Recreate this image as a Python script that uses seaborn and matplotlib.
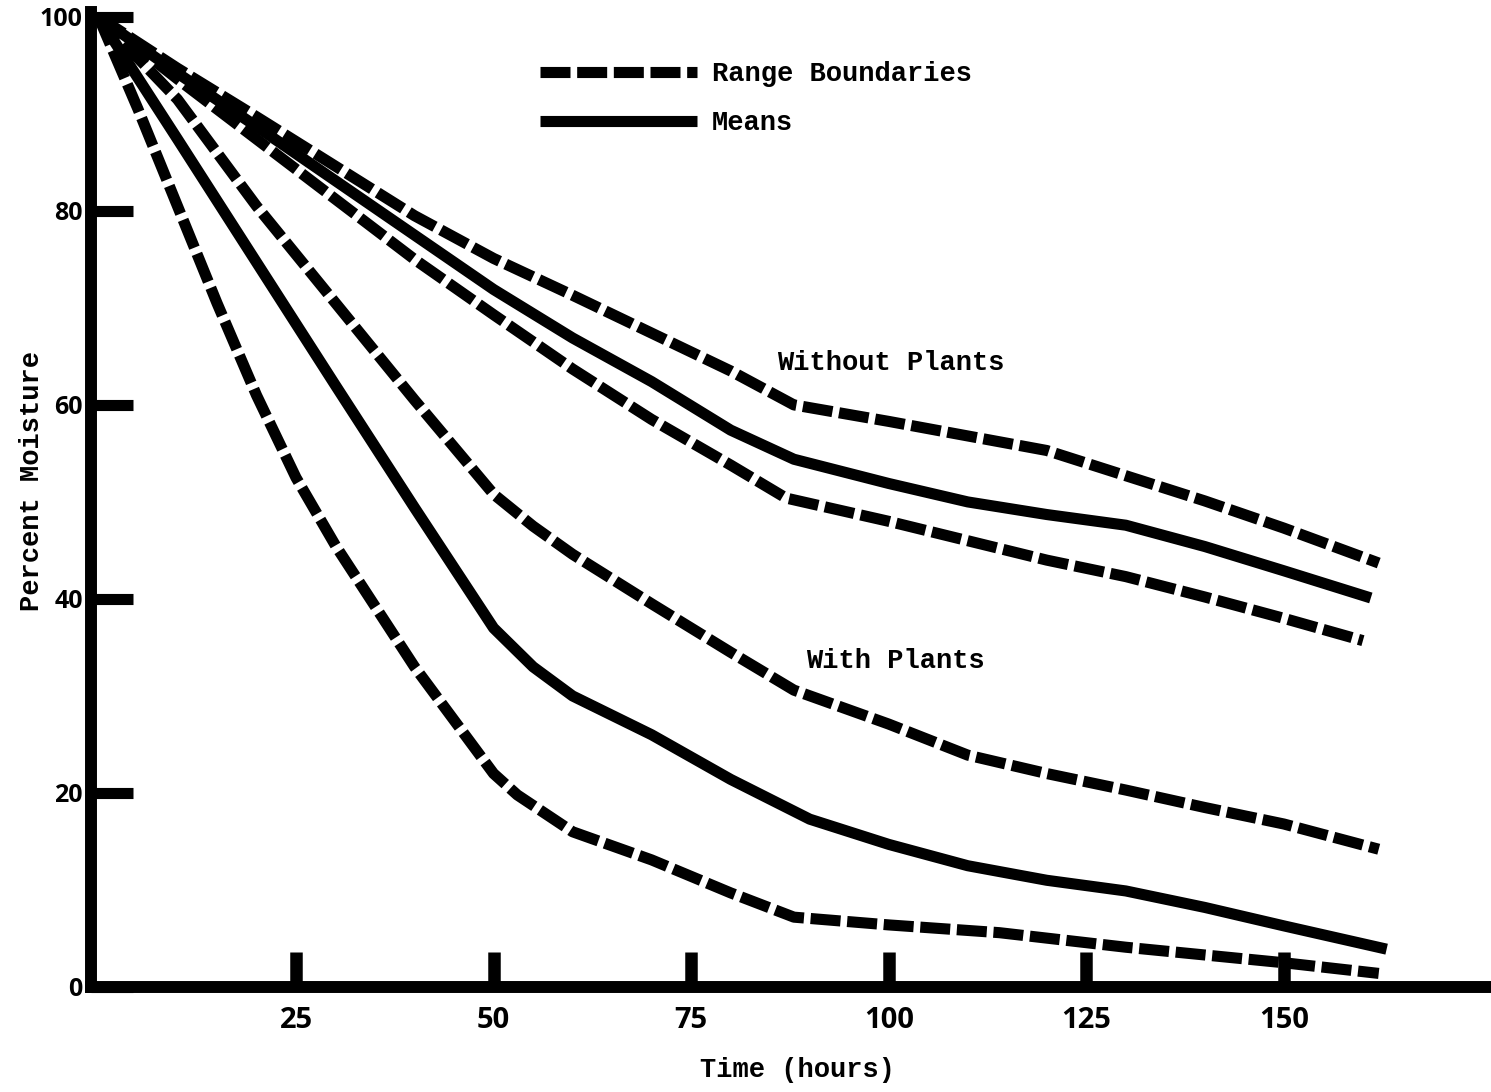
import matplotlib
matplotlib.use("Agg")
import matplotlib.pyplot as plt
import pandas as pd
import seaborn as sns

# Soil moisture over time, with and without plants
# Upper/lower range boundaries and means for each treatment

wo_hi_t = [0, 10, 20, 30, 40, 50, 60, 70, 80, 88, 100, 110, 120, 130, 140, 150, 162]
wo_hi_v = [100, 94.7, 89.7, 84.6, 79.5, 75.1, 71.3, 67.4, 63.5, 60.0, 58.3, 56.8, 55.3, 52.7, 50.1, 47.3, 43.7]

wo_mean_t = [0, 10, 20, 30, 40, 50, 60, 70, 80, 88, 100, 110, 120, 130, 140, 150, 161]
wo_mean_v = [100, 94.2, 88.7, 83.1, 77.5, 71.9, 66.9, 62.4, 57.4, 54.4, 51.9, 50.0, 48.7, 47.6, 45.4, 42.9, 40.1]

wo_lo_t = [0, 10, 20, 30, 40, 50, 60, 70, 80, 87, 100, 110, 120, 130, 140, 150, 160]
wo_lo_v = [100, 93.6, 87.4, 81.2, 75.0, 69.3, 63.7, 58.5, 53.8, 50.4, 48.0, 46.0, 44.0, 42.3, 40.2, 38.0, 35.7]

wp_hi_t = [0, 10, 20, 30, 40, 50, 55, 60, 70, 80, 88, 100, 110, 120, 130, 140, 150, 162]
wp_hi_v = [100, 91.5, 80.5, 70.5, 60.5, 50.8, 47.5, 44.6, 39.5, 34.5, 30.6, 27.1, 23.9, 22.0, 20.3, 18.5, 16.8, 14.2]

wp_mean_t = [0, 10, 20, 30, 40, 50, 55, 60, 70, 80, 90, 100, 110, 120, 130, 140, 150, 163]
wp_mean_v = [100, 87.4, 74.7, 62.0, 49.4, 37.0, 33.0, 30.0, 26.0, 21.4, 17.3, 14.7, 12.5, 11.0, 9.9, 8.2, 6.3, 3.9]

wp_lo_t = [0, 5, 10, 15, 20, 25, 30, 40, 50, 53, 60, 70, 80, 88, 100, 114, 130, 140, 150, 162]
wp_lo_v = [100, 90.5, 80.5, 70.5, 61.0, 52.5, 45.5, 33.0, 22.0, 19.8, 16.0, 13.1, 9.7, 7.2, 6.4, 5.6, 4.1, 3.3, 2.5, 1.4]

x_ticks = [25, 50, 75, 100, 125, 150]
y_ticks = [0, 20, 40, 60, 80, 100]
kinds = ["Range Boundaries", "Means"]

curves = [
    ("Without Plants upper", wo_hi_t, wo_hi_v, "Range Boundaries"),
    ("Without Plants mean", wo_mean_t, wo_mean_v, "Means"),
    ("Without Plants lower", wo_lo_t, wo_lo_v, "Range Boundaries"),
    ("With Plants upper", wp_hi_t, wp_hi_v, "Range Boundaries"),
    ("With Plants mean", wp_mean_t, wp_mean_v, "Means"),
    ("With Plants lower", wp_lo_t, wp_lo_v, "Range Boundaries"),
]
rows = []
for name, ts, vs, kind in curves:
    for t, v in zip(ts, vs):
        rows.append({"time": t, "moisture": v, "curve": name, "kind": kind})
df = pd.DataFrame(rows)

sns.set_theme(style="white")
plt.rcParams["font.family"] = ["Liberation Mono", "DejaVu Sans Mono"]
plt.rcParams["text.color"] = "black"
plt.rcParams["lines.solid_capstyle"] = "butt"
plt.rcParams["lines.solid_joinstyle"] = "round"
plt.rcParams["lines.dash_joinstyle"] = "round"

W, H = 1491, 1092
fig = plt.figure(figsize=(W / 100, H / 100), dpi=100)
ax = fig.add_axes([91 / W, 1 - 987 / H, 1396 / W, 975 / H])

dash_map = {"Range Boundaries": (2.7, 0.6), "Means": ""}
sns.lineplot(data=df, x="time", y="moisture", units="curve", estimator=None,
             style="kind", style_order=kinds, dashes=dash_map,
             color="black", linewidth=8, sort=False, ax=ax)
for ln in ax.get_lines():
    ln.set_clip_on(False)

ax.set_xlim(-0.94, 175.7)
ax.set_ylim(0, 100.5)
ax.set_xticks(x_ticks)
ax.set_yticks(y_ticks)
ax.tick_params(axis="x", which="major", bottom=True, direction="in", length=25,
               width=9, pad=14, labelsize=21, color="black", labelcolor="black")
ax.tick_params(axis="y", which="major", left=True, direction="in", length=30,
               width=8, pad=6, labelsize=18, color="black", labelcolor="black")
for lab in ax.get_xticklabels() + ax.get_yticklabels():
    lab.set_fontfamily(["Open Sans", "DejaVu Sans"])
    lab.set_fontweight("bold")

for side in ["top", "right"]:
    ax.spines[side].set_visible(False)
for side in ["left", "bottom"]:
    ax.spines[side].set_linewidth(8.6)
    ax.spines[side].set_color("black")
    ax.spines[side].set_capstyle("projecting")

label_font = dict(fontsize=19.5, fontweight="bold", color="black")
ax.set_xlabel("Time (hours)", **label_font)
ax.set_ylabel("Percent Moisture", **label_font)
ax.xaxis.set_label_coords((797 - 91) / 1396, (987 - 1070) / 975)
ax.xaxis.label.set_verticalalignment("center")
ax.yaxis.set_label_coords((32 - 91) / 1396, (987 - 481) / 975)
ax.yaxis.label.set_verticalalignment("center")

ax.text(100.2, 64.3, "Without Plants", ha="center", va="center", **label_font)
ax.text(100.8, 33.6, "With Plants", ha="center", va="center", **label_font)

handles, labels = ax.get_legend_handles_labels()
pairs = [(h, l) for h, l in zip(handles, labels) if l in kinds]
for h, _ in pairs:
    h.set_linewidth(8)
    h.set_color("black")
leg = ax.legend([p[0] for p in pairs], [p[1] for p in pairs],
                loc="upper left", bbox_to_anchor=((540 - 91) / 1396, (987 - 61) / 975),
                frameon=False, borderaxespad=0, borderpad=0,
                handlelength=5.8, handletextpad=0.55, labelspacing=0.85,
                labelcolor="black",
                prop={"family": ["Liberation Mono", "DejaVu Sans Mono"],
                      "weight": "bold", "size": 19.5})

fig.savefig("out.png", dpi=100, facecolor="white")
